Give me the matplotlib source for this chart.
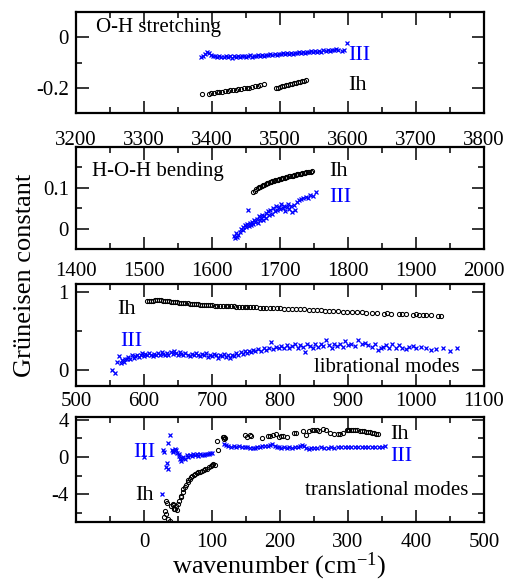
import matplotlib
matplotlib.use("Agg")
import matplotlib.pyplot as plt

plt.rcParams['font.family'] = ['Liberation Serif', 'DejaVu Serif']
plt.rcParams['mathtext.fontset'] = 'custom'
plt.rcParams['mathtext.rm'] = 'Liberation Serif'
plt.rcParams['mathtext.default'] = 'regular'
plt.rcParams['axes.unicode_minus'] = False

BLUE = '#0000ff'

# ---- O-H stretching ----
oh_ih_x = [3385, 3395, 3399, 3403, 3407, 3411, 3415, 3419, 3423, 3427, 3431, 3435, 3439,
           3443, 3447, 3451, 3455, 3459, 3463, 3467, 3471, 3477,
           3494, 3497, 3500, 3503, 3506, 3509, 3512, 3515, 3518, 3521, 3524, 3527, 3530,
           3533, 3536, 3539]
oh_ih_y = [-0.226, -0.224, -0.222, -0.221, -0.218, -0.217, -0.215, -0.214, -0.212, -0.210,
           -0.209, -0.207, -0.205, -0.204, -0.202, -0.200, -0.199, -0.197, -0.195, -0.193,
           -0.191, -0.184,
           -0.202, -0.199, -0.197, -0.195, -0.193, -0.191, -0.189, -0.187, -0.185, -0.183,
           -0.181, -0.179, -0.177, -0.175, -0.173, -0.170]
oh_iii_x = [3384, 3387, 3390, 3393, 3396, 3399, 3402, 3405, 3408, 3411, 3414, 3417, 3420,
            3423, 3426, 3429, 3432, 3435, 3438, 3441, 3444, 3447, 3450, 3453, 3456, 3459,
            3462, 3465, 3468, 3471, 3474, 3477, 3480, 3483, 3486, 3489, 3492, 3495, 3498,
            3501, 3504, 3507, 3510, 3513, 3516, 3519, 3522, 3525, 3528, 3531, 3534, 3537,
            3540, 3543, 3546, 3549, 3552, 3555, 3558, 3561, 3564, 3567, 3570, 3573, 3576,
            3579, 3582, 3585, 3591, 3594, 3599]
oh_iii_y = [-0.080, -0.074, -0.066, -0.058, -0.063, -0.072, -0.076, -0.073, -0.079, -0.075,
            -0.080, -0.077, -0.074, -0.079, -0.076, -0.081, -0.075, -0.078, -0.074, -0.079,
            -0.076, -0.073, -0.078, -0.075, -0.072, -0.077, -0.073, -0.076, -0.071, -0.074,
            -0.070, -0.073, -0.069, -0.072, -0.068, -0.071, -0.066, -0.069, -0.065, -0.068,
            -0.064, -0.067, -0.063, -0.066, -0.062, -0.065, -0.061, -0.064, -0.060, -0.063,
            -0.059, -0.062, -0.057, -0.060, -0.056, -0.059, -0.055, -0.058, -0.054, -0.057,
            -0.052, -0.055, -0.051, -0.054, -0.049, -0.052, -0.048, -0.050, -0.054, -0.050,
            -0.023]

# ---- H-O-H bending ----
hoh_ih_x = [1661, 1663, 1665, 1667, 1669, 1671, 1673, 1675, 1677, 1679, 1681, 1683, 1685,
            1687, 1689, 1691, 1693, 1695, 1697, 1699, 1701, 1703, 1705, 1707, 1709, 1711,
            1713, 1715, 1717, 1719, 1721, 1723, 1725, 1727, 1729, 1731, 1733, 1735, 1737,
            1739, 1741, 1743, 1745, 1747]
hoh_ih_y = [0.090, 0.093, 0.096, 0.099, 0.101, 0.103, 0.105, 0.107, 0.108, 0.110, 0.111,
            0.112, 0.114, 0.115, 0.116, 0.117, 0.118, 0.119, 0.120, 0.121, 0.122, 0.123,
            0.124, 0.125, 0.126, 0.127, 0.128, 0.129, 0.130, 0.130, 0.131, 0.132, 0.133,
            0.133, 0.134, 0.135, 0.136, 0.136, 0.137, 0.138, 0.138, 0.139, 0.139, 0.140]
hoh_iii_x = [1632, 1634, 1635, 1637, 1639, 1641, 1643, 1645, 1646, 1648, 1650, 1651, 1653,
             1654, 1656, 1657, 1659, 1661, 1662, 1664, 1666, 1667, 1669, 1670, 1672, 1674,
             1675, 1677, 1679, 1680, 1682, 1684, 1686, 1688, 1690, 1692, 1694, 1696, 1698,
             1700, 1702, 1704, 1706, 1708, 1710, 1712, 1714, 1716, 1718, 1720, 1722, 1725,
             1728, 1731, 1734, 1738, 1741, 1744, 1748, 1753]
hoh_iii_y = [-0.018, -0.022, -0.012, -0.020, -0.015, -0.008, -0.002, 0.004, -0.004, 0.008,
             0.003, 0.012, 0.046, 0.006, 0.014, 0.009, 0.017, 0.011, 0.020, 0.016, 0.024,
             0.014, 0.030, 0.020, 0.027, 0.034, 0.022, 0.030, 0.038, 0.027, 0.042, 0.033,
             0.046, 0.037, 0.050, 0.042, 0.055, 0.045, 0.052, 0.047, 0.060, 0.050, 0.056,
             0.044, 0.053, 0.060, 0.048, 0.055, 0.040, 0.058, 0.046, 0.065, 0.070, 0.072,
             0.075, 0.078, 0.076, 0.082, 0.080, 0.090]

# ---- librational modes ----
lib_ih_x = [604, 607, 610, 613, 616, 619, 622, 625, 628, 631, 634, 637, 640, 643, 646, 649,
            652, 655, 658, 661, 664, 667, 670, 673, 676, 679, 682, 685, 688, 691, 694, 697,
            700, 704, 708, 712, 716, 720, 724, 728, 732, 736, 740, 744, 748, 752, 756, 760,
            765, 770, 775, 780, 785, 790, 795, 800, 806, 812, 818, 824, 830, 836, 842, 848,
            854, 860, 866, 872, 878, 885, 892, 899, 906, 913, 920, 927, 935, 943, 953, 958,
            963, 975, 980, 985, 995, 1000, 1005, 1010, 1015, 1022, 1032, 1037]
lib_ih_y = [0.885, 0.883, 0.886, 0.889, 0.895, 0.902, 0.898, 0.893, 0.889, 0.886, 0.882,
            0.879, 0.876, 0.873, 0.870, 0.867, 0.864, 0.861, 0.858, 0.855, 0.852, 0.850,
            0.847, 0.845, 0.842, 0.840, 0.837, 0.835, 0.833, 0.832, 0.830, 0.828, 0.827,
            0.825, 0.823, 0.822, 0.820, 0.819, 0.817, 0.816, 0.814, 0.813, 0.811, 0.810,
            0.808, 0.807, 0.806, 0.804, 0.802, 0.800, 0.798, 0.796, 0.794, 0.792, 0.790,
            0.788, 0.786, 0.784, 0.782, 0.779, 0.777, 0.775, 0.772, 0.769, 0.767, 0.764,
            0.761, 0.758, 0.755, 0.752, 0.749, 0.746, 0.743, 0.740, 0.737, 0.734, 0.731,
            0.727, 0.723, 0.725, 0.720, 0.716, 0.718, 0.713, 0.710, 0.712, 0.707, 0.709,
            0.705, 0.701, 0.693, 0.690]
lib_iii_x = [553, 558, 561, 563, 566, 568, 570, 572, 575, 577, 580, 582, 585, 587, 590, 592,
             595, 597, 600, 602, 605, 608, 610, 613, 615, 618, 620, 623, 626, 628, 631, 634,
             636, 639, 642, 644, 647, 650, 653, 655, 658, 661, 664, 667, 670, 673, 676, 679,
             682, 685, 688, 691, 694, 697, 700, 703, 706, 709, 712, 715, 718, 721, 724, 727,
             730, 733, 736, 739, 742, 745, 748, 751, 754, 757, 760, 764, 768, 772, 776, 780,
             784, 787, 790, 794, 798, 802, 806, 810, 814, 818, 822, 826, 830, 834, 837, 840,
             844, 848, 852, 856, 860, 864, 868, 872, 876, 880, 884, 888, 892, 896, 900, 905,
             910, 915, 920, 925, 930, 935, 940, 944, 948, 952, 956, 960, 965, 970, 975, 980,
             985, 990, 995, 1000, 1008, 1015, 1022, 1030, 1040, 1050, 1060]
lib_iii_y = [0.00, -0.03, 0.10, 0.18, 0.09, 0.13, 0.10, 0.15, 0.14, 0.17, 0.15, 0.19, 0.16,
             0.18, 0.20, 0.17, 0.19, 0.22, 0.18, 0.21, 0.19, 0.22, 0.20, 0.18, 0.21, 0.19,
             0.22, 0.20, 0.23, 0.21, 0.19, 0.22, 0.20, 0.23, 0.21, 0.24, 0.22, 0.20, 0.23,
             0.21, 0.19, 0.22, 0.20, 0.18, 0.21, 0.19, 0.22, 0.20, 0.18, 0.21, 0.19, 0.22,
             0.17, 0.20, 0.18, 0.21, 0.19, 0.16, 0.20, 0.18, 0.21, 0.17, 0.19, 0.16, 0.20,
             0.18, 0.22, 0.19, 0.23, 0.21, 0.24, 0.22, 0.25, 0.23, 0.26, 0.24, 0.27, 0.25,
             0.28, 0.26, 0.29, 0.36, 0.27, 0.30, 0.28, 0.31, 0.29, 0.32, 0.28, 0.31, 0.33,
             0.29, 0.32, 0.30, 0.23, 0.34, 0.31, 0.28, 0.33, 0.30, 0.34, 0.31, 0.38, 0.32,
             0.29, 0.34, 0.31, 0.33, 0.30, 0.37, 0.32, 0.34, 0.31, 0.38, 0.33, 0.35, 0.32,
             0.30, 0.34, 0.26, 0.28, 0.30, 0.32, 0.29, 0.33, 0.28, 0.32, 0.29, 0.27, 0.30,
             0.31, 0.28, 0.30, 0.28, 0.26, 0.27, 0.28, 0.25, 0.29]

# ---- translational modes ----
tr_ih_x = [30, 31, 32, 33, 34, 36, 38, 40, 42, 43, 44, 46, 47, 48, 50, 52, 54, 55, 57, 58,
           60, 62, 64, 65, 67, 69, 71, 73, 75, 78, 80, 82, 85, 88, 90, 92, 95, 98, 100, 102,
           104, 107, 109, 116, 117, 118, 119, 148, 152, 156, 158, 173, 183, 186, 190, 194,
           198, 201, 205, 210, 220, 224, 234, 239, 243, 247, 250, 254, 258, 264, 268, 274,
           280, 285, 288, 292, 298, 300, 302, 305, 308, 311, 314, 317, 320, 323, 326, 329,
           332, 335, 338, 341, 344]
tr_ih_y = [-6.45, -5.8, -6.1, -4.7, -4.9, -6.7, -6.9, -5.3, -5.1, -5.2, -5.6, -5.6, -5.3,
           -5.7, -5.05, -4.7, -4.3, -4.15, -3.8, -3.5, -3.25, -3.0, -2.7, -2.5, -2.35, -2.15,
           -2.0, -1.9, -1.8, -1.7, -1.65, -1.6, -1.5, -1.35, -1.3, -1.25, -1.1, -1.0, -0.9,
           -0.8, -0.85, 1.7, 0.75, 2.1, 1.9, 2.2, 2.0, 2.35, 2.1, 2.4, 2.3, 2.0, 2.27, 2.3,
           2.35, 2.5, 2.16, 2.3, 2.24, 2.1, 2.6, 2.6, 2.8, 2.35, 2.8, 2.9, 2.85, 2.9, 2.8, 3.0,
           2.85, 2.6, 2.5, 2.5, 2.5, 2.55, 2.9, 2.95, 2.95, 2.93, 2.9, 2.88, 2.85, 2.82, 2.8,
           2.75, 2.72, 2.7, 2.65, 2.6, 2.55, 2.5, 2.45]
tr_iii_x = [0, 26, 28, 30, 33, 34, 35, 36, 38, 41, 42, 43, 46, 47, 49, 51, 52, 53, 55, 56,
            58, 60, 63, 65, 67, 70, 72, 75, 78, 80, 82, 85, 88, 90, 92, 95, 97, 100, 117, 120,
            124, 128, 132, 136, 140, 144, 148, 152, 156, 160, 163, 166, 170, 174, 178, 182,
            186, 189, 192, 195, 198, 202, 206, 210, 214, 218, 222, 226, 230, 233, 236, 239,
            242, 246, 250, 255, 260, 265, 270, 275, 280, 285, 290, 295, 300, 305, 310, 315,
            320, 325, 330, 335, 340, 345, 350, 355]
tr_iii_y = [0.05, -4.0, 0.8, 0.5, -1.1, -0.7, -1.3, 1.45, 2.35, 0.8, 0.6, 0.55, 0.9, 0.7,
            0.4, 0.36, 0.1, -0.2, -0.46, -0.1, 0.0, -0.2, 0.18, 0.05, 0.25, 0.1, 0.36, 0.2,
            0.3, 0.15, 0.3, 0.25, 0.2, 0.32, 0.36, 0.3, 0.4, 0.43, 1.4, 1.3, 1.2, 1.1, 1.15,
            1.1, 1.15, 1.1, 1.05, 1.1, 1.0, 0.95, 1.0, 1.05, 1.1, 1.15, 1.2, 1.15, 1.3, 1.35,
            1.2, 1.1, 1.05, 1.0, 1.05, 1.0, 1.05, 1.0, 1.05, 1.1, 1.2, 1.3, 1.15, 0.95, 0.9,
            0.95, 1.0, 1.0, 1.02, 0.98, 1.0, 1.03, 1.0, 1.02, 1.05, 1.03, 1.05, 1.07, 1.05,
            1.08, 1.06, 1.08, 1.1, 1.08, 1.1, 1.12, 1.12, 1.15]

panels = [
    dict(ih=(oh_ih_x, oh_ih_y), iii=(oh_iii_x, oh_iii_y), xlim=(3200, 3800), ylim=(-0.3, 0.1),
         xt=[3200, 3300, 3400, 3500, 3600, 3700, 3800], xl=['3200', '3300', '3400', '3500', '3600', '3700', '3800'],
         yt=[-0.2, 0, 0.1], yl=['-0.2', '0', ''], ym=[-0.3, -0.1], pad=13,
         rect=(0.1487, 0.8075, 0.7984, 0.172)),
    dict(ih=(hoh_ih_x, hoh_ih_y), iii=(hoh_iii_x, hoh_iii_y), xlim=(1400, 2000), ylim=(-0.05, 0.2),
         xt=[1400, 1500, 1600, 1700, 1800, 1900, 2000], xl=['1400', '1500', '1600', '1700', '1800', '1900', '2000'],
         yt=[0, 0.1, 0.2], yl=['0', '0.1', ''], ym=[-0.05, 0.05, 0.15], pad=9,
         rect=(0.1487, 0.5758, 0.7984, 0.1738)),
    dict(ih=(lib_ih_x, lib_ih_y), iii=(lib_iii_x, lib_iii_y), xlim=(500, 1100), ylim=(-0.2, 1.1),
         xt=[500, 600, 700, 800, 900, 1000, 1100], xl=['500', '600', '700', '800', '900', '1000', '1100'],
         yt=[0, 1], yl=['0', '1'], ym=[0.5], pad=4,
         rect=(0.1487, 0.3424, 0.7984, 0.1738)),
    dict(ih=(tr_ih_x, tr_ih_y), iii=(tr_iii_x, tr_iii_y), xlim=(-100, 500), ylim=(-7, 4.3),
         xt=[-100, 0, 100, 200, 300, 400, 500], xl=['', '0', '100', '200', '300', '400', '500'],
         yt=[-4, 0, 4], yl=['-4', '0', '4'], ym=[-6, -2, 2], pad=8,
         rect=(0.1487, 0.1107, 0.7984, 0.1789)),
]

fig = plt.figure(figsize=(5.11, 5.87), dpi=100)
axes = []
for p in panels:
    ax = fig.add_axes(p['rect'])
    ax.plot(*p['ih'], 'o', mfc='none', mec='black', ms=3.0, mew=0.75, ls='none')
    ax.plot(*p['iii'], 'x', color=BLUE, ms=2.8, mew=0.9, ls='none')
    ax.set_xlim(*p['xlim'])
    ax.set_ylim(*p['ylim'])
    ax.set_xticks(p['xt'], p['xl'])
    ax.set_xticks([v + 50 for v in p['xt'][:-1]], minor=True)
    ax.set_yticks(p['yt'], p['yl'])
    ax.set_yticks(p['ym'], minor=True)
    ax.tick_params(which='both', direction='in', top=True, right=True, width=1.1, labelsize=15)
    ax.tick_params(which='major', length=9)
    ax.tick_params(which='minor', length=4.5)
    ax.tick_params(axis='x', which='major', pad=p['pad'])
    ax.tick_params(axis='y', which='major', pad=5)
    for s in ax.spines.values():
        s.set_linewidth(1.6)
    axes.append(ax)

a1, a2, a3, a4 = axes
a1.text(3229, 0.037, 'O-H stretching', fontsize=15, ha='left', va='center')
a1.text(3601, -0.074, 'III', color=BLUE, fontsize=16, ha='left', va='center')
a1.text(3601, -0.19, 'Ih', fontsize=16, ha='left', va='center')

a2.text(1424, 0.14, 'H-O-H bending', fontsize=15, ha='left', va='center')
a2.text(1773, 0.14, 'Ih', fontsize=16, ha='left', va='center')
a2.text(1773, 0.076, 'III', color=BLUE, fontsize=16, ha='left', va='center')

a3.text(560, 0.77, 'Ih', fontsize=16, ha='left', va='center')
a3.text(565, 0.37, 'III', color=BLUE, fontsize=16, ha='left', va='center')
a3.text(1064, 0.04, 'librational modes', fontsize=15, ha='right', va='center')

a4.text(362, 2.4, 'Ih', fontsize=16, ha='left', va='center')
a4.text(362, 0.0, 'III', color=BLUE, fontsize=16, ha='left', va='center')
a4.text(-16, 0.46, 'III', color=BLUE, fontsize=16, ha='left', va='center')
a4.text(-13, -4.1, 'Ih', fontsize=16, ha='left', va='center')
a4.text(477, -3.57, 'translational modes', fontsize=15, ha='right', va='center')

fig.text(0.049, 0.531, 'Grüneisen constant', rotation=90, fontsize=19, ha='center', va='center')
fig.text(0.546, 0.023, 'wavenumber (cm$^{-1}$)', fontsize=19, ha='center', va='baseline')

fig.savefig('out.png', dpi=100)
